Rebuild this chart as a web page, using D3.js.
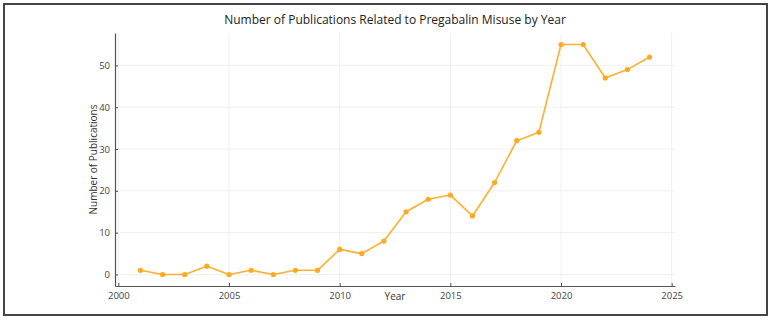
<!DOCTYPE html>
<html>
<head>
<meta charset="utf-8">
<script src="https://cdn.jsdelivr.net/npm/d3@7"></script>
<style>
  html, body { margin: 0; padding: 0; background: #fff; }
  svg { display: block; }
</style>
</head>
<body>
<div id="chart"></div>
<script>
// Data
const years = [2001, 2002, 2003, 2004, 2005, 2006, 2007, 2008, 2009, 2010, 2011, 2012,
               2013, 2014, 2015, 2016, 2017, 2018, 2019, 2020, 2021, 2022, 2023, 2024];
const counts = [1, 0, 0, 2, 0, 1, 0, 1, 1, 6, 5, 8,
                15, 18, 19, 14, 22, 32, 34, 55, 55, 47, 49, 52];
const xTicks = [2000, 2005, 2010, 2015, 2020, 2025];
const yTicks = [0, 10, 20, 30, 40, 50];

const width = 771, height = 320;
const margin = { left: 115, right: 96, top: 33, bottom: 34 };
const font = "'Open Sans', 'DejaVu Sans', sans-serif";

const svg = d3.select('#chart').append('svg')
    .attr('width', width)
    .attr('height', height);

// outer frame
svg.append('rect')
    .attr('x', 4).attr('y', 4)
    .attr('width', 763).attr('height', 311)
    .attr('fill', 'none')
    .attr('stroke', '#444')
    .attr('stroke-width', 2);

const x = d3.scaleLinear()
    .domain([1999.85, 2025.15])
    .range([margin.left, width - margin.right]);

const y = d3.scaleLinear()
    .domain([-2.75, 57.75])
    .range([height - margin.bottom, margin.top]);

const data = years.map((yr, i) => ({ year: yr, value: counts[i] }));

// grid
const grid = svg.append('g');
grid.selectAll('.vg').data(xTicks).enter().append('line')
    .attr('x1', d => x(d)).attr('x2', d => x(d))
    .attr('y1', y.range()[0]).attr('y2', y.range()[1])
    .attr('stroke', '#ececec').attr('stroke-width', 0.8);
grid.selectAll('.hg').data(yTicks).enter().append('line')
    .attr('x1', x.range()[0]).attr('x2', x.range()[1])
    .attr('y1', d => y(d)).attr('y2', d => y(d))
    .attr('stroke', '#ececec').attr('stroke-width', 0.8);

// axes
const xAxis = svg.append('g')
    .attr('transform', `translate(0,${height - margin.bottom})`)
    .call(d3.axisBottom(x).tickValues(xTicks).tickFormat(d3.format('d'))
        .tickSizeInner(-3).tickSizeOuter(0).tickPadding(6));

const yAxis = svg.append('g')
    .attr('transform', `translate(${margin.left},0)`)
    .call(d3.axisLeft(y).tickValues(yTicks).tickSizeInner(-3).tickSizeOuter(0).tickPadding(5));

[xAxis, yAxis].forEach(a => {
    a.select('.domain').attr('stroke', '#555').attr('stroke-width', 1.2);
    a.selectAll('.tick line').attr('stroke', '#555');
    a.selectAll('.tick text')
        .attr('fill', '#444')
        .style('font-family', font)
        .style('font-size', '9.5px');
});

// line + markers
const line = d3.line()
    .x(d => x(d.year))
    .y(d => y(d.value));

svg.append('path')
    .datum(data)
    .attr('fill', 'none')
    .attr('stroke', '#FFB02E')
    .attr('stroke-width', 1.6)
    .attr('stroke-linejoin', 'round')
    .attr('d', line);

svg.selectAll('.dot').data(data).enter().append('circle')
    .attr('cx', d => x(d.year))
    .attr('cy', d => y(d.value))
    .attr('r', 2.6)
    .attr('fill', '#FFAA22');

// title and labels
svg.append('text')
    .attr('x', (x.range()[0] + x.range()[1]) / 2)
    .attr('y', 24)
    .attr('text-anchor', 'middle')
    .attr('fill', '#222')
    .style('font-family', font)
    .style('font-size', '12px')
    .text('Number of Publications Related to Pregabalin Misuse by Year');

svg.append('text')
    .attr('x', (x.range()[0] + x.range()[1]) / 2)
    .attr('y', 300)
    .attr('text-anchor', 'middle')
    .attr('fill', '#333')
    .style('font-family', font)
    .style('font-size', '10px')
    .text('Year');

svg.append('text')
    .attr('transform', `translate(97,${(y.range()[0] + y.range()[1]) / 2}) rotate(-90)`)
    .attr('text-anchor', 'middle')
    .attr('fill', '#333')
    .style('font-family', font)
    .style('font-size', '10px')
    .text('Number of Publications');
</script>
</body>
</html>
